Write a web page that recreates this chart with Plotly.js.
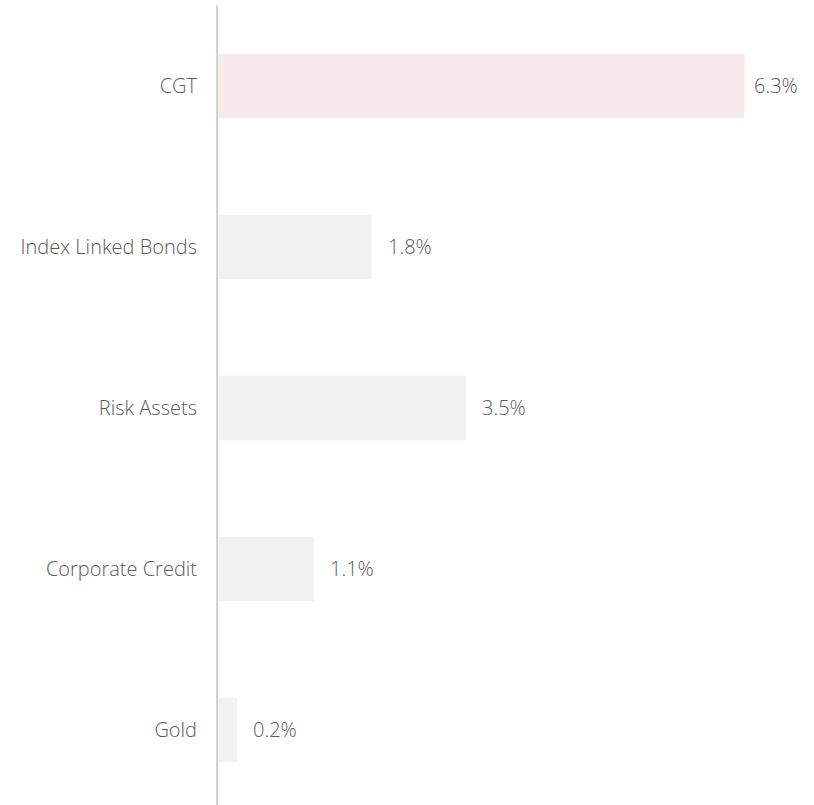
<!DOCTYPE html>
<html>
<head>
<meta charset="utf-8">
<script src="https://cdn.plot.ly/plotly-3.0.1.min.js"></script>
<style>html,body{margin:0;padding:0;background:#fff;}#chart{width:814px;height:805px;}</style>
</head>
<body>
<div id="chart"></div>
<script>
const categories = ["CGT", "Index Linked Bonds", "Risk Assets", "Corporate Credit", "Gold"];
const barValues = [6.3, 1.84, 2.97, 1.15, 0.23];
const valueLabels = ["6.3%", "1.8%", "3.5%", "1.1%", "0.2%"];
const barColors = ["#f8eaea", "#f0f2f1", "#f0f2f1", "#f0f2f1", "#f0f2f1"];

const fontFamily = "'Open Sans', 'Noto Sans', sans-serif";
const textColor = "#5a5a5a";

const trace = {
  type: "bar",
  orientation: "h",
  x: barValues,
  y: categories,
  width: 0.4,
  marker: {color: barColors, line: {width: 0}},
  hoverinfo: "none"
};

const maxVal = Math.max(...barValues);
const annotations = categories.map((c, i) => ({
  x: barValues[i],
  y: c,
  xref: "x",
  yref: "y",
  text: valueLabels[i],
  showarrow: false,
  xanchor: "left",
  yanchor: "middle",
  xshift: barValues[i] === maxVal ? 7 : 14,
  font: {family: fontFamily, size: 20, color: textColor, weight: 300}
}));

const layout = {
  width: 814,
  height: 805,
  margin: {l: 218, r: 11, t: 5, b: 0, pad: 0},
  paper_bgcolor: "#ffffff",
  plot_bgcolor: "#ffffff",
  showlegend: false,
  bargap: 0.6,
  xaxis: {
    range: [0, 7],
    visible: false,
    fixedrange: true
  },
  yaxis: {
    type: "category",
    categoryorder: "array",
    categoryarray: categories,
    range: [4.466, -0.503],
    showline: true,
    linecolor: "#cfd5d3",
    linewidth: 2,
    showgrid: false,
    zeroline: false,
    ticks: "",
    ticklabelstandoff: 15,
    tickfont: {family: fontFamily, size: 20, color: textColor, weight: 300}
  },
  annotations: annotations
};

Plotly.newPlot("chart", [trace], layout, {displayModeBar: false, staticPlot: true});
</script>
</body>
</html>
